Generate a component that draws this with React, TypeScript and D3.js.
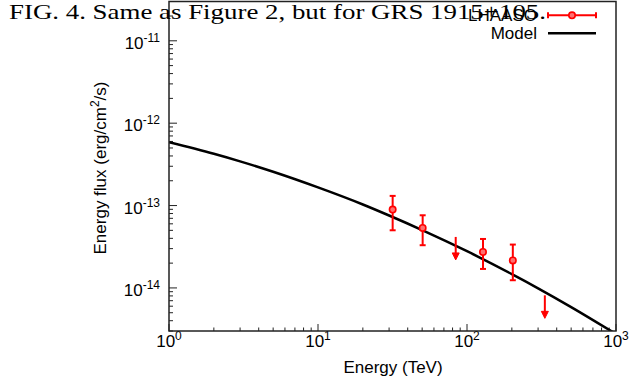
import React from "react";
import * as d3 from "d3";

// LHAASO data points (TeV, erg/cm^2/s)
const pointEnergy = [31.7, 50.4, 128, 203];
const pointFlux = [8.93e-14, 5.35e-14, 2.73e-14, 2.16e-14];
const pointFluxHigh = [1.31e-13, 7.62e-14, 3.93e-14, 3.36e-14];
const pointFluxLow = [5.01e-14, 3.3e-14, 1.7e-14, 1.24e-14];

// LHAASO upper limits
const ulEnergy = [84, 333];
const ulFlux = [4.16e-14, 8.13e-15];

// Model curve
const modelEnergy = [1, 2, 3, 5, 10, 20, 30, 50, 100, 200, 300, 500, 1000];
const modelFlux = [
  5.87e-13, 4.25e-13, 3.44e-13, 2.57e-13, 1.66e-13, 1.03e-13, 7.57e-14,
  5.04e-14, 2.79e-14, 1.47e-14, 9.9e-15, 5.86e-15, 2.76e-15,
];

const xMajor = [1, 10, 100, 1000];
const xExp = ["0", "1", "2", "3"];
const yMajor = [1e-14, 1e-13, 1e-12, 1e-11];
const yExp = ["-14", "-13", "-12", "-11"];

const legendLabels = ["LHAASO", "Model"];
const title = "FIG. 4. Same as Figure 2, but for GRS 1915+105.";
const xTitle = "Energy (TeV)";

export default function App() {
  const W = 630;
  const H = 389;
  const L = 169, R = 616, T = 1.5, B = 331;
  const x = d3.scaleLog().domain([1, 1000]).range([L, R]);
  const y = d3.scaleLog().domain([3e-15, 3e-11]).range([B, T]);

  const xMinor = x.ticks().filter((v) => !xMajor.some((m) => Math.abs(m - v) / m < 1e-6));
  const yMinor = y.ticks().filter((v) => !yMajor.some((m) => Math.abs(m - v) / m < 1e-6));

  const line = d3
    .line<number>()
    .x((_, i) => x(modelEnergy[i]))
    .y((_, i) => y(modelFlux[i]))
    .curve(d3.curveMonotoneX);

  const red = "#ff0000";
  const font = "Liberation Sans, Arial, sans-serif";
  const axisColor = "#222";

  return (
    <svg
      width={W}
      height={H}
      style={{ position: "absolute", left: 0, top: 0, background: "#fff" }}
      fontFamily={font}
    >
      <defs>
        <clipPath id="plotclip">
          <rect x={L} y={T} width={R - L} height={B - T} />
        </clipPath>
      </defs>

      {/* ticks */}
      {xMajor.map((v, i) => (
        <line key={"xM" + i} x1={x(v)} x2={x(v)} y1={B} y2={B - 7} stroke={axisColor} strokeWidth={1} />
      ))}
      {xMinor.map((v, i) => (
        <line key={"xm" + i} x1={x(v)} x2={x(v)} y1={B} y2={B - 3.5} stroke={axisColor} strokeWidth={1} />
      ))}
      {yMajor.map((v, i) => (
        <line key={"yM" + i} x1={L} x2={L + 8} y1={y(v)} y2={y(v)} stroke={axisColor} strokeWidth={1} />
      ))}
      {yMinor.map((v, i) => (
        <line key={"ym" + i} x1={L} x2={L + 4} y1={y(v)} y2={y(v)} stroke={axisColor} strokeWidth={1} />
      ))}

      {/* tick labels */}
      {xMajor.map((v, i) => (
        <text key={"xl" + i} x={x(v)} y={347} textAnchor="middle" fontSize={17} fill="#000">
          10
          <tspan dy={-7} fontSize={12}>{xExp[i]}</tspan>
        </text>
      ))}
      {yMajor.map((v, i) => (
        <text key={"yl" + i} x={160} y={y(v) + 8} textAnchor="end" fontSize={17} fill="#000">
          10
          <tspan dy={-7} fontSize={12}>{yExp[i]}</tspan>
        </text>
      ))}

      {/* axis titles */}
      <text x={393} y={373} textAnchor="middle" fontSize={17} fill="#000">
        {xTitle}
      </text>
      <text
        transform={`translate(105.5, 168) rotate(-90)`}
        textAnchor="middle"
        fontSize={17}
        fill="#000"
      >
        Energy flux (erg/cm
        <tspan dy={-7} fontSize={12}>2</tspan>
        <tspan dy={7}>/s)</tspan>
      </text>

      {/* model */}
      <g clipPath="url(#plotclip)">
        <path d={line(modelEnergy) || ""} fill="none" stroke="#000" strokeWidth={2.5} />
      </g>

      {/* error bars */}
      {pointEnergy.map((e, i) => {
        const cx = x(e);
        return (
          <g key={"p" + i} stroke={red} strokeWidth={2}>
            <line x1={cx} x2={cx} y1={y(pointFluxHigh[i])} y2={y(pointFluxLow[i])} />
            <line x1={cx - 3} x2={cx + 3} y1={y(pointFluxHigh[i])} y2={y(pointFluxHigh[i])} />
            <line x1={cx - 3} x2={cx + 3} y1={y(pointFluxLow[i])} y2={y(pointFluxLow[i])} />
            <circle cx={cx} cy={y(pointFlux[i])} r={3.2} fill="#ff7070" strokeWidth={1.6} />
          </g>
        );
      })}

      {/* upper limits */}
      {ulEnergy.map((e, i) => {
        const cx = x(e);
        const y0 = y(ulFlux[i]);
        const len = 23;
        return (
          <g key={"u" + i}>
            <line x1={cx} x2={cx} y1={y0} y2={y0 + len - 4} stroke={red} strokeWidth={2} />
            <path
              d={`M${cx - 3.5},${y0 + len - 7} L${cx + 3.5},${y0 + len - 7} L${cx},${y0 + len} Z`}
              fill={red}
              stroke={red}
              strokeWidth={1}
            />
          </g>
        );
      })}

      {/* frame */}
      <rect x={L} y={T} width={R - L} height={B - T} fill="none" stroke={axisColor} strokeWidth={1.5} />

      {/* title */}
      <text
        x={9}
        y={18.5}
        fontFamily="Liberation Serif, Times New Roman, serif"
        fontSize={22}
        textLength={537}
        lengthAdjust="spacingAndGlyphs"
        fill="#000"
      >
        {title}
      </text>

      {/* legend */}
      <text x={537} y={21} textAnchor="end" fontSize={17} fill="#000">
        {legendLabels[0]}
      </text>
      <g stroke={red} strokeWidth={2}>
        <line x1={548} x2={596} y1={15.3} y2={15.3} />
        <line x1={548} x2={548} y1={12.3} y2={18.3} />
        <line x1={596} x2={596} y1={12.3} y2={18.3} />
        <circle cx={572} cy={15.3} r={3.2} fill="#ff7070" strokeWidth={1.6} />
      </g>
      <text x={537} y={39} textAnchor="end" fontSize={17} fill="#000">
        {legendLabels[1]}
      </text>
      <line x1={548} x2={596} y1={33.3} y2={33.3} stroke="#000" strokeWidth={2.5} />
    </svg>
  );
}
